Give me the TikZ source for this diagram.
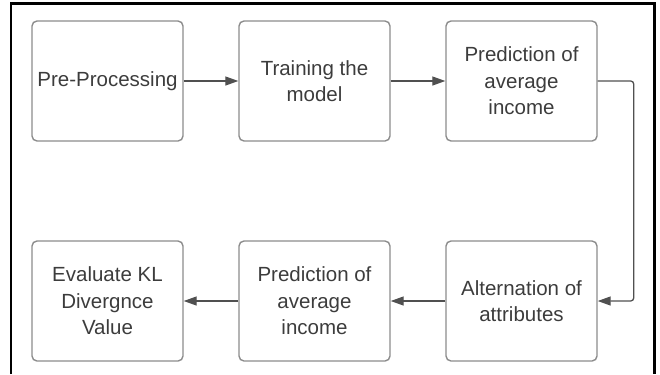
\documentclass[tikz,border=0pt]{standalone}
\usepackage{fontspec}
\setmainfont{Liberation Sans}
\usetikzlibrary{arrows.meta}
\definecolor{boxgray}{HTML}{8C8C8C}
\definecolor{txtgray}{HTML}{3C3C3C}
\definecolor{flowgray}{HTML}{505050}
\tikzset{
	stepbox/.style={draw=boxgray, line width=1.4bp, rounded corners=5bp, minimum width=151bp, minimum height=120bp, inner sep=0pt, align=center, text=txtgray, font=\fontsize{20.5bp}{26.5bp}\selectfont},
	flow/.style={draw=flowgray, line width=1.3bp, -{Triangle[length=13bp,width=9bp]}}
}
\begin{document}
\begin{tikzpicture}[x=1bp, y=-1bp]
			%%%%% START %%%%%
			\useasboundingbox (0, 0) rectangle (660, 374);
			
			\draw[line width=2.2bp] (11, 374) -- (11, 3.5) -- (654.5, 3.5) -- (654.5, 374);
			
			\node[stepbox] (prep) at (107.5, 81) {Pre-Processing};
			\node[stepbox] (train) at (314.5, 81) {Training the\\model};
			\node[stepbox] (predA) at (521.5, 81) {Prediction of\\average\\income};
			
			\node[stepbox] (alter) at (521.5, 301) {Alternation of\\attributes};
			\node[stepbox] (predB) at (314.5, 301) {Prediction of\\average\\income};
			\node[stepbox] (evalkl) at (107.5, 301) {Evaluate KL\\Divergnce\\Value};
			
			\draw[flow] (prep) -- (train);
			\draw[flow] (train) -- (predA);
			\draw[flow, rounded corners=3bp] (predA.east) -- ++(36, 0) |- (alter.east);
			\draw[flow] (alter) -- (predB);
			\draw[flow] (predB) -- (evalkl);
			
			%%%%% END %%%%%
\end{tikzpicture}
\end{document}
